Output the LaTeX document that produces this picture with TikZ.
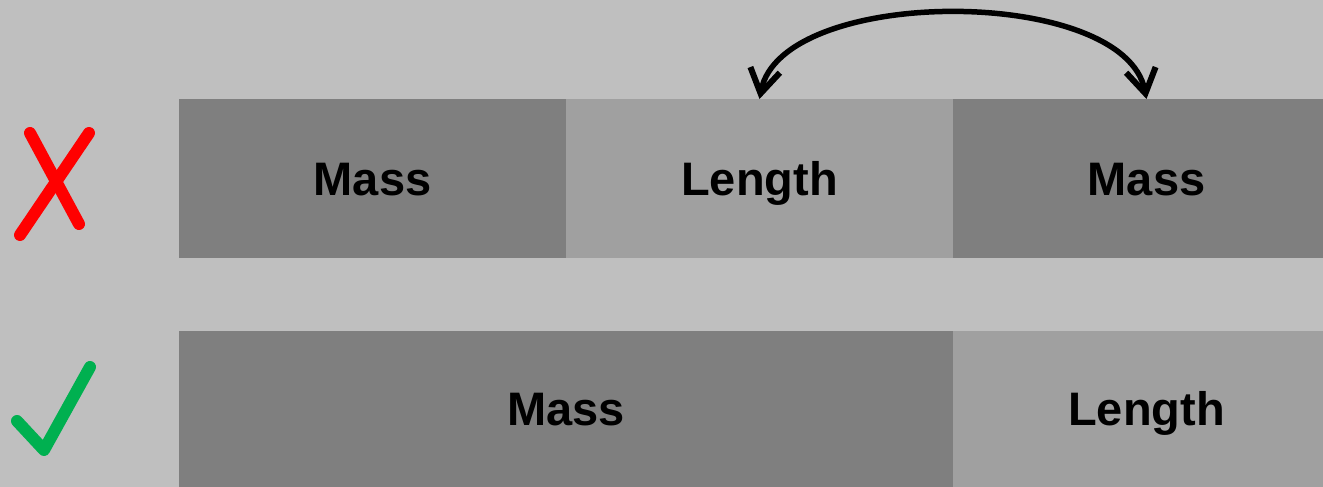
\documentclass[tikz,border=0pt]{standalone}
\usepackage{fontspec}
\setmainfont{Liberation Sans}
\usetikzlibrary{arrows.meta}
\definecolor{bg}{HTML}{BFBFBF}
\definecolor{dark}{HTML}{7F7F7F}
\definecolor{light}{HTML}{A0A0A0}
\definecolor{chk}{HTML}{00B050}
\begin{document}
\begin{tikzpicture}[x=1pt,y=-1pt,
  cell/.style={draw=none,inner sep=0pt,outer sep=0pt,anchor=north west,
    text height=33.6pt,text depth=0pt,
    font=\fontsize{47}{47}\selectfont\bfseries,text=black},
  darkcell/.style={cell,fill=dark},
  lightcell/.style={cell,fill=light},
  barb/.tip={Straight Barb[length=24pt,width=30pt,line width=6pt]},
  swap/.style={line width=5.5pt,{barb}-{barb}},
  cross/.style={red,line width=12pt,line cap=round},
  tick/.style={chk,line width=12pt,line cap=round,line join=round}]
\fill[bg] (0,0) rectangle (1323,487);
\useasboundingbox (0,0) rectangle (1323,487);
\begin{scope}
\clip (0,0) rectangle (1323,487);
% top row
\node[darkcell,minimum width=387pt,minimum height=159pt] (m1) at (179,99) {Mass};
\node[lightcell,minimum width=387pt,minimum height=159pt] (l1) at (566,99) {Length};
\node[darkcell,minimum width=387pt,minimum height=159pt] (m2) at (953,99) {Mass};
% bottom row
\node[darkcell,minimum width=774pt,minimum height=156pt] (m3) at (179,331) {Mass};
\node[lightcell,minimum width=387pt,minimum height=156pt] (l2) at (953,331) {Length};
\end{scope}
% swap arrow
\draw[swap] (l1.north) .. controls +(22,-114) and +(-22,-114) .. (m2.north);
% cross
\draw[cross] (30,133) -- (79,224);
\draw[cross] (89,133) -- (20,235);
% check
\draw[tick] (17,421) -- (44,450) -- (90,367);
\end{tikzpicture}
\end{document}
